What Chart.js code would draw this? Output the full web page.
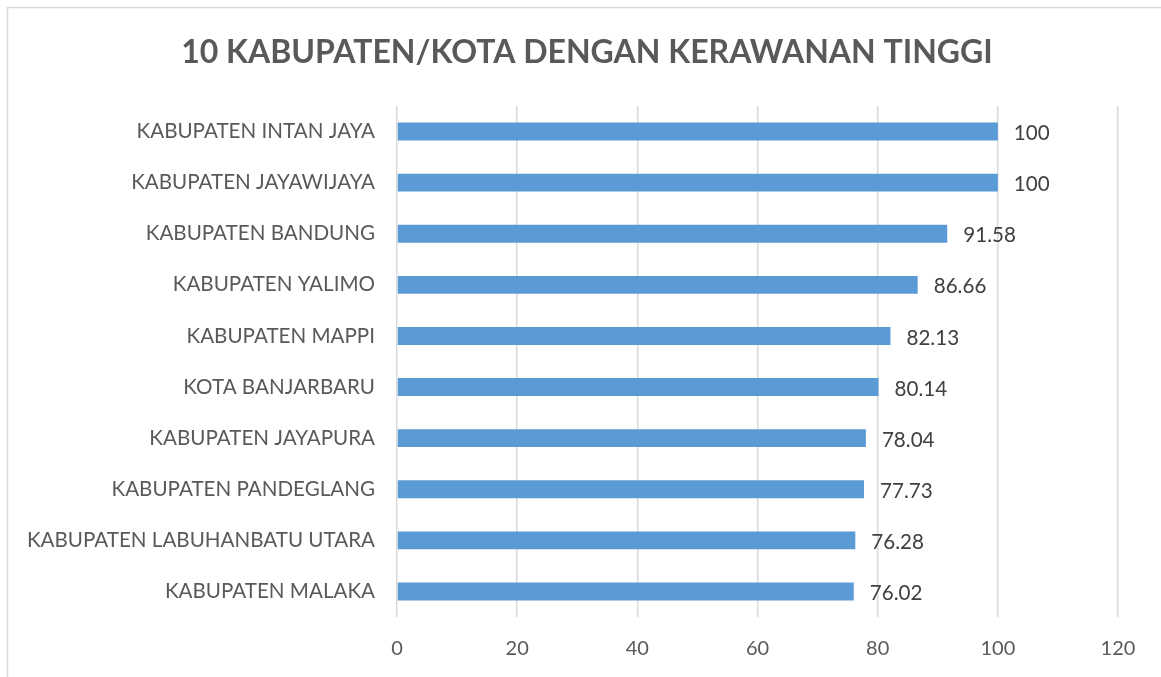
<!DOCTYPE html>
<html>
<head>
<meta charset="utf-8">
<script src="https://cdn.jsdelivr.net/npm/chart.js@4/dist/chart.umd.min.js"></script>
<style>
html,body{margin:0;padding:0;background:#fff;}
#wrap{width:1161px;height:677px;position:relative;}
</style>
</head>
<body>
<div id="wrap"><canvas id="c" width="1161" height="677"></canvas></div>
<script>
const chartTitle = '10 KABUPATEN/KOTA DENGAN KERAWANAN TINGGI';
const categories = [
  'KABUPATEN INTAN JAYA',
  'KABUPATEN JAYAWIJAYA',
  'KABUPATEN BANDUNG',
  'KABUPATEN YALIMO',
  'KABUPATEN MAPPI',
  'KOTA BANJARBARU',
  'KABUPATEN JAYAPURA',
  'KABUPATEN PANDEGLANG',
  'KABUPATEN LABUHANBATU UTARA',
  'KABUPATEN MALAKA'
];
const values = [100, 100, 91.58, 86.66, 82.13, 80.14, 78.04, 77.73, 76.28, 76.02];
const valueLabels = ['100', '100', '91.58', '86.66', '82.13', '80.14', '78.04', '77.73', '76.28', '76.02'];
const axisMin = 0, axisMax = 120, axisStep = 20;

const FONT = 'Lato, "Open Sans", sans-serif';

const frame = {
  id: 'frame',
  beforeDraw(chart) {
    const ctx = chart.ctx;
    ctx.save();
    ctx.strokeStyle = '#d9d9d9';
    ctx.lineWidth = 1.5;
    ctx.strokeRect(7.5, 7.5, chart.width + 10, chart.height + 10);
    ctx.restore();
  }
};

const titleDraw = {
  id: 'titleDraw',
  afterDraw(chart) {
    const ctx = chart.ctx;
    ctx.save();
    ctx.font = 'bold 32px ' + FONT;
    ctx.fillStyle = '#595959';
    ctx.textAlign = 'center';
    ctx.textBaseline = 'alphabetic';
    ctx.fillText(chartTitle, 587, 63);
    ctx.restore();
  }
};

const barLabels = {
  id: 'barLabels',
  afterDatasetsDraw(chart) {
    const ctx = chart.ctx;
    const meta = chart.getDatasetMeta(0);
    ctx.save();
    ctx.font = '20.6px ' + FONT;
    ctx.fillStyle = '#404040';
    ctx.textAlign = 'left';
    ctx.textBaseline = 'middle';
    meta.data.forEach((el, i) => {
      ctx.fillText(valueLabels[i], el.x + 16, el.y + 2);
    });
    ctx.restore();
  }
};

new Chart(document.getElementById('c'), {
  type: 'bar',
  data: {
    labels: categories,
    datasets: [{
      data: values,
      backgroundColor: '#5b9bd5',
      borderWidth: 0,
      barPercentage: 0.35,
      categoryPercentage: 1.0
    }]
  },
  options: {
    indexAxis: 'y',
    responsive: false,
    animation: false,
    devicePixelRatio: 1,
    layout: { padding: { left: 0, right: 43, top: 106, bottom: 0 } },
    plugins: {
      legend: { display: false },
      tooltip: { enabled: false },
      title: { display: false }
    },
    scales: {
      x: {
        min: axisMin,
        max: axisMax,
        ticks: {
          stepSize: axisStep,
          color: '#595959',
          font: { family: FONT, size: 20 },
          padding: 20
        },
        grid: { color: '#d9d9d9', lineWidth: 1.5, drawTicks: false },
        border: { display: false },
        afterFit(scale) { scale.height = 60; }
      },
      y: {
        ticks: {
          color: '#595959',
          font: { family: FONT, size: 20.6 },
          padding: 22
        },
        grid: { display: false, drawTicks: false },
        border: { display: false },
        afterFit(scale) { scale.width = 397; }
      }
    }
  },
  plugins: [frame, titleDraw, barLabels]
});
</script>
</body>
</html>
